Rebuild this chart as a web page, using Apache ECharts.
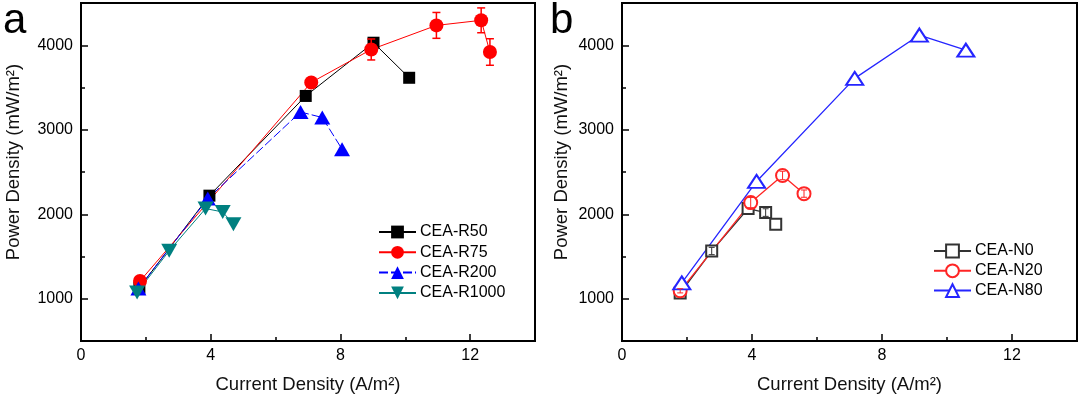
<!DOCTYPE html>
<html><head><meta charset="utf-8">
<script src="https://cdn.jsdelivr.net/npm/echarts@6/dist/echarts.min.js"></script>
<style>html,body{margin:0;padding:0;background:#fff}#c{width:1080px;height:399px}</style>
</head><body><div id="c"></div>
<script>
// ---- tick labels ----
const xTickLabels = [0, 4, 8, 12];
const yTickLabels = [1000, 2000, 3000, 4000];

// ---- panel a ----
const xR50 = [1.80, 3.96, 6.93, 9.02, 10.12];
const yR50 = [1130, 2220, 3400, 4030, 3615];
const xR75 = [1.82, 7.10, 8.95, 10.96, 12.34, 12.61];
const yR75 = [1210, 3560, 3950, 4235, 4295, 3920];
const eR75 = [0, 0, 124, 153, 147, 157];
const xR200 = [1.77, 3.91, 6.77, 7.44, 8.05];
const yR200 = [1120, 2185, 3210, 3145, 2770];
const xR1000 = [1.73, 2.72, 3.84, 4.37, 4.70];
const yR1000 = [1075, 1568, 2067, 2027, 1882];

// ---- panel b ----
const xN0 = [1.79, 2.76, 3.88, 4.42, 4.73];
const yN0 = [1067, 1565, 2067, 2020, 1882];
const eN0 = [0, 43, 0, 45, 0];
const xN20 = [1.79, 3.96, 4.94, 5.60];
const yN20 = [1094, 2138, 2459, 2244];
const eN20 = [25, 60, 50, 43];
const xN80 = [1.84, 4.14, 7.16, 9.15, 10.58];
const yN80 = [1188, 2388, 3608, 4121, 3941];

const FONT = "'Liberation Sans', Arial, Helvetica, sans-serif";
const pts = (xs, ys) => xs.map((x, i) => [x, ys[i]]);
const errPts = (xs, ys, es) => xs.map((x, i) => [x, ys[i], es[i]]).filter(d => d[2] > 0);

function mainX(g) {
  return {
    type: 'value', gridIndex: g, min: 0, max: 14, interval: 2,
    name: 'Current Density (A/m²)', nameLocation: 'middle', nameGap: 34,
    nameTextStyle: { fontFamily: FONT, fontSize: 18.5, color: '#111' },
    axisLine: { show: true, onZero: false, lineStyle: { color: '#000', width: 2 } },
    axisTick: { show: true, inside: true, length: 4, lineStyle: { color: '#000', width: 1.5 } },
    axisLabel: { margin: 7, fontFamily: FONT, fontSize: 16, color: '#000',
      formatter: v => xTickLabels.includes(v) ? String(v) : '' },
    splitLine: { show: false }
  };
}
function overX(g) {
  return {
    type: 'value', gridIndex: g, min: 0, max: 14, interval: 4, position: 'bottom',
    axisLine: { show: false },
    axisTick: { show: true, inside: true, length: 7, customValues: xTickLabels, lineStyle: { color: '#000', width: 1.5 } },
    axisLabel: { show: false }, splitLine: { show: false }
  };
}
function mainY(g, gap) {
  return {
    type: 'value', gridIndex: g, min: 500, max: 4500, interval: 500,
    name: 'Power Density (mW/m²)', nameLocation: 'middle', nameGap: gap,
    nameTextStyle: { fontFamily: FONT, fontSize: 18.5, color: '#111', padding: [0, 0, 0, 20] },
    axisLine: { show: true, onZero: false, lineStyle: { color: '#000', width: 2 } },
    axisTick: { show: true, inside: true, length: 4, lineStyle: { color: '#000', width: 1.5 } },
    axisLabel: { margin: 8, fontFamily: FONT, fontSize: 16, color: '#000',
      formatter: v => yTickLabels.includes(v) ? String(v) : '' },
    splitLine: { show: false }
  };
}
function overY(g) {
  return {
    type: 'value', gridIndex: g, min: 500, max: 4500, interval: 500, position: 'left',
    axisLine: { show: false },
    axisTick: { show: true, inside: true, length: 7, customValues: yTickLabels, lineStyle: { color: '#000', width: 1.5 } },
    axisLabel: { show: false }, splitLine: { show: false }
  };
}

function errSeries(xi, yi, data, color, cap, lw) {
  return {
    type: 'custom', xAxisIndex: xi, yAxisIndex: yi, z: 5, silent: true,
    encode: { x: 0, y: 1 },
    data: data,
    renderItem: function (params, api) {
      const x = api.value(0), y = api.value(1), e = api.value(2);
      const t = api.coord([x, y + e]), b = api.coord([x, y - e]);
      const st = { stroke: color, lineWidth: lw };
      return { type: 'group', children: [
        { type: 'line', shape: { x1: t[0], y1: t[1], x2: b[0], y2: b[1] }, style: st },
        { type: 'line', shape: { x1: t[0] - cap, y1: t[1], x2: t[0] + cap, y2: t[1] }, style: st },
        { type: 'line', shape: { x1: b[0] - cap, y1: b[1], x2: b[0] + cap, y2: b[1] }, style: st }
      ] };
    }
  };
}

const downTri = 'path://M0,0 L10,0 L5,8.7 Z';

const option = {
  animation: false,
  backgroundColor: '#fff',
  grid: [
    { left: 81, right: 545, top: 3, bottom: 57, show: true, borderColor: '#000', borderWidth: 2, backgroundColor: 'transparent' },
    { left: 622, right: 3, top: 3, bottom: 57, show: true, borderColor: '#000', borderWidth: 2, backgroundColor: 'transparent' }
  ],
  xAxis: [mainX(0), mainX(1), overX(0), overX(1)],
  yAxis: [mainY(0, 58), mainY(1, 51), overY(0), overY(1)],
  legend: [
    { data: ['CEA-R50', 'CEA-R75', 'CEA-R200', 'CEA-R1000'], orient: 'vertical', left: 378, top: 224,
      itemWidth: 37, itemHeight: 16, itemGap: 4.3, padding: 0,
      textStyle: { fontFamily: FONT, fontSize: 16, color: '#000', padding: [0, 0, 0, -1] } },
    { data: ['CEA-N0', 'CEA-N20', 'CEA-N80'], orient: 'vertical', left: 933, top: 243,
      itemWidth: 37, itemHeight: 16, itemGap: 3.8, padding: 0,
      textStyle: { fontFamily: FONT, fontSize: 16, color: '#000', padding: [0, 0, 0, -1] } }
  ],
  graphic: [
    { type: 'text', left: 3, top: 0, style: { text: 'a', font: '42px ' + FONT, fill: '#000' } },
    { type: 'text', left: 550, top: 0, style: { text: 'b', font: '42px ' + FONT, fill: '#000' } }
  ],
  series: [
    { name: 'CEA-R50', type: 'line', xAxisIndex: 0, yAxisIndex: 0, data: pts(xR50, yR50),
      symbol: 'rect', symbolSize: 12, itemStyle: { color: '#000' }, lineStyle: { color: '#000', width: 1 } },
    { name: 'CEA-R75', type: 'line', xAxisIndex: 0, yAxisIndex: 0, data: pts(xR75, yR75),
      symbol: 'circle', symbolSize: 14, itemStyle: { color: '#ff0000' }, lineStyle: { color: '#ff0000', width: 1 } },
    { name: 'CEA-R200', type: 'line', xAxisIndex: 0, yAxisIndex: 0, data: pts(xR200, yR200),
      symbol: 'triangle', symbolSize: [16, 14], itemStyle: { color: '#0000ff' },
      lineStyle: { color: '#0000ff', width: 1, type: [9, 3] } },
    { name: 'CEA-R1000', type: 'line', xAxisIndex: 0, yAxisIndex: 0, data: pts(xR1000, yR1000),
      symbol: downTri, symbolSize: [16, 14], itemStyle: { color: '#008080' }, lineStyle: { color: '#008080', width: 1 } },
    errSeries(0, 0, errPts(xR75, yR75, eR75), '#ff0000', 4, 1.5),

    { name: 'CEA-N0', type: 'line', xAxisIndex: 1, yAxisIndex: 1, data: pts(xN0, yN0),
      symbol: 'emptyRect', symbolSize: 11, itemStyle: { color: '#333', borderColor: '#333', borderWidth: 1.5 },
      lineStyle: { color: '#333', width: 1.3 } },
    { name: 'CEA-N20', type: 'line', xAxisIndex: 1, yAxisIndex: 1, data: pts(xN20, yN20),
      symbol: 'emptyCircle', symbolSize: 13, itemStyle: { color: '#ff2525', borderColor: '#ff2525', borderWidth: 1.5 },
      lineStyle: { color: '#ff2525', width: 1.3 } },
    { name: 'CEA-N80', type: 'line', xAxisIndex: 1, yAxisIndex: 1, data: pts(xN80, yN80),
      symbol: 'emptyTriangle', symbolSize: [17, 13], itemStyle: { color: '#2525ff', borderColor: '#2525ff', borderWidth: 1.5 },
      lineStyle: { color: '#2525ff', width: 1.3 } },
    errSeries(1, 1, errPts(xN0, yN0, eN0), '#333', 3, 1),
    errSeries(1, 1, errPts(xN20, yN20, eN20), '#ff2525', 3, 1)
  ]
};
const chart = echarts.init(document.getElementById('c'), null, { renderer: 'canvas' });
chart.setOption(option);
</script></body></html>
